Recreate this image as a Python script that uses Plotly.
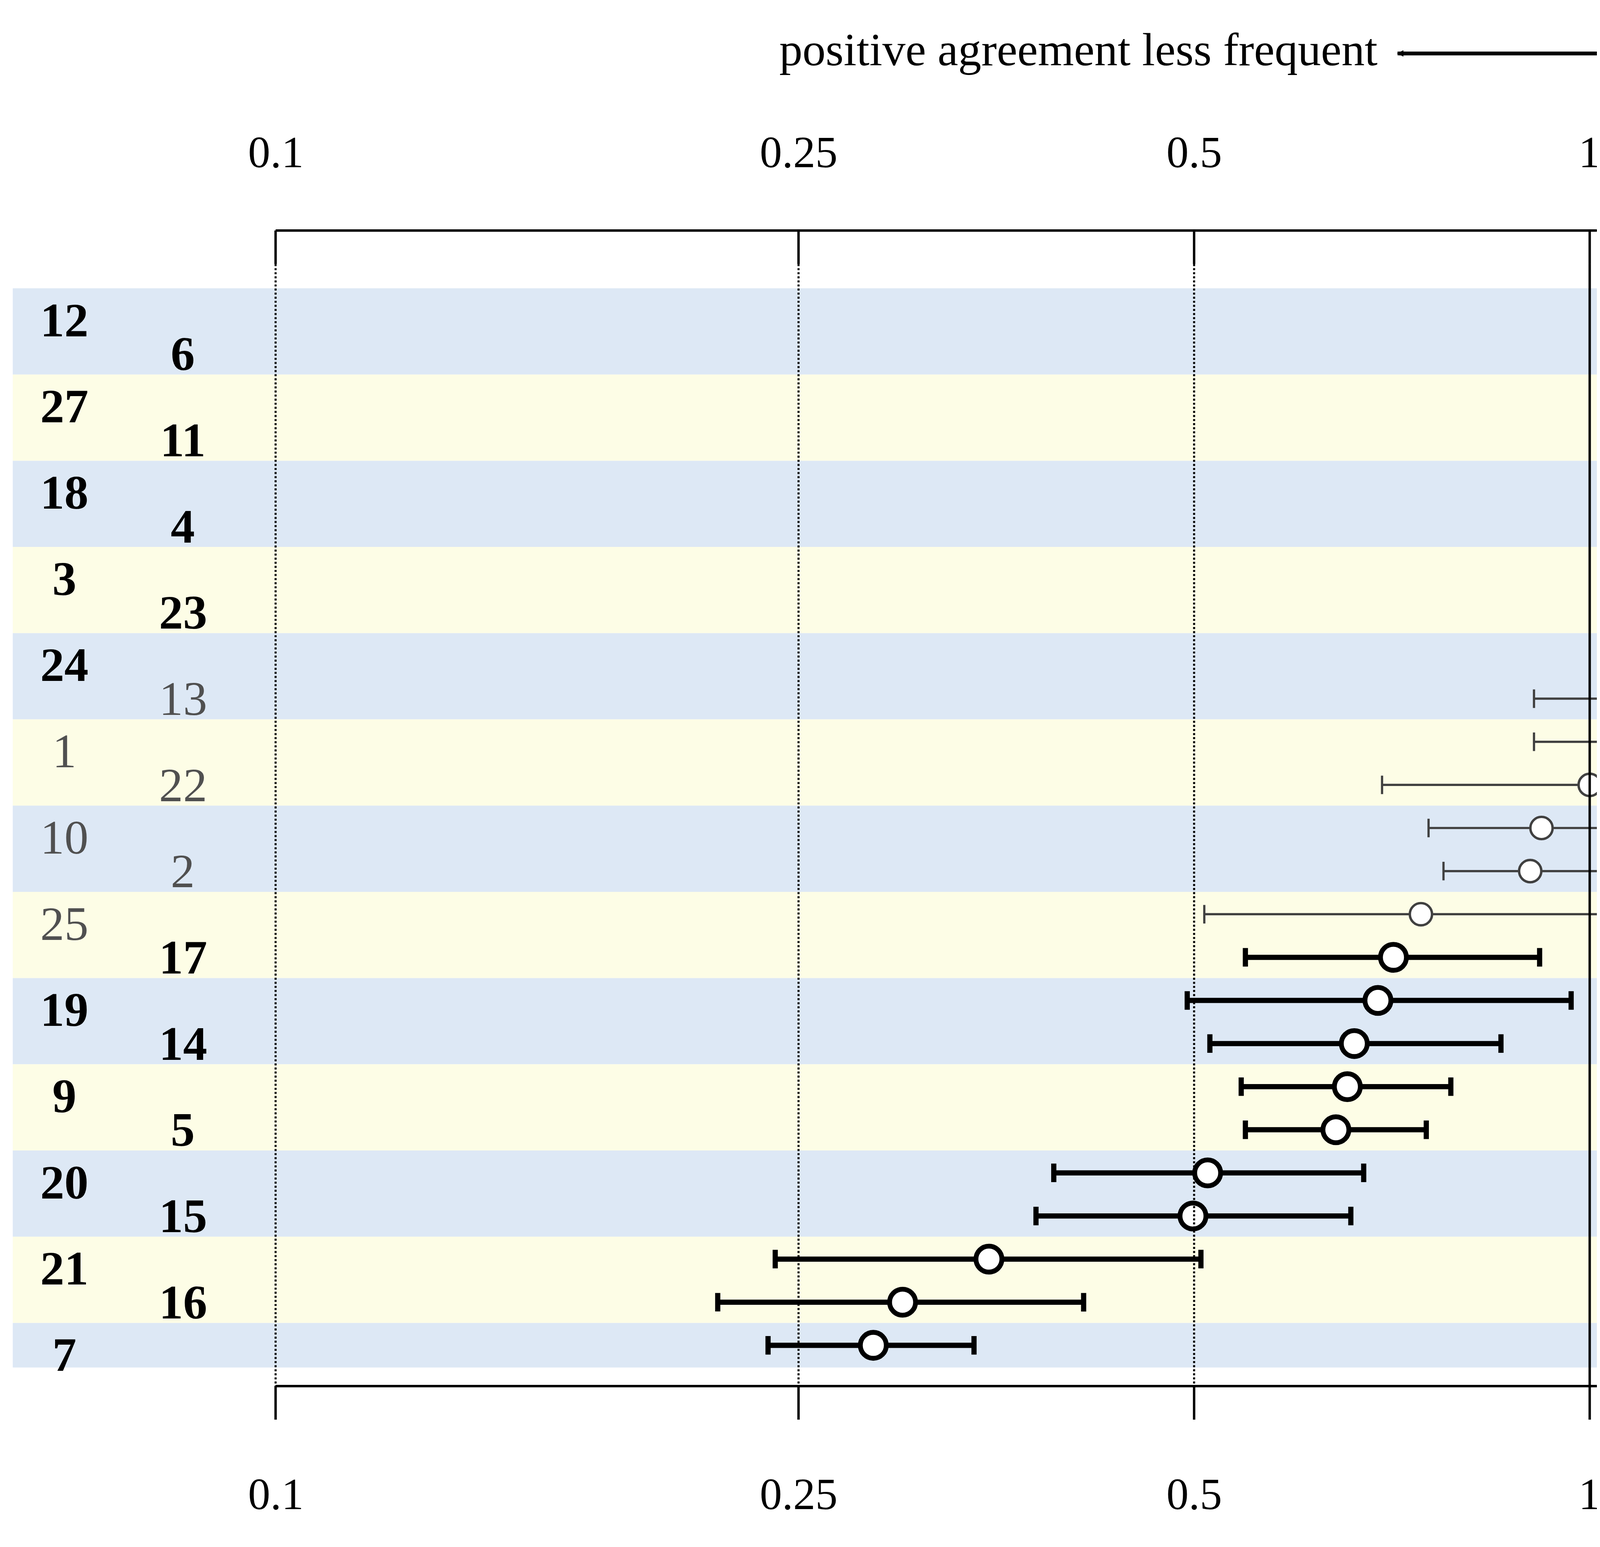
import numpy as np
import plotly.graph_objects as go

labels = ["12","6","27","11","18","4","3","23","24","13","1","22","10","2","25","17","19","14","9","5","20","15","21","16","7"]
est  = [7.18,4.51,2.82,2.61,2.07,2.01,1.97,1.86,1.44,1.11,1.06,1.00,0.919,0.901,0.744,0.709,0.690,0.662,0.654,0.641,0.512,0.499,0.349,0.300,0.285]
low  = [5.22,3.68,1.65,2.08,1.49,1.72,1.68,1.18,1.02,0.907,0.907,0.695,0.754,0.774,0.509,0.547,0.494,0.514,0.543,0.547,0.391,0.379,0.240,0.217,0.237]
high = [9.87,5.55,4.80,3.26,2.88,2.36,2.32,2.93,2.04,1.37,1.235,1.44,1.12,1.05,1.09,0.916,0.968,0.856,0.784,0.751,0.673,0.658,0.506,0.412,0.340]
significant = [True]*9 + [False]*6 + [True]*10
tick_vals = [0.1,0.25,0.5,1,2,4,8]
tick_text = ["0.1","0.25","0.5","1","2","4","8"]

S = 4.745
F = "Liberation Serif"
y0, dy = 165, 23.13
ys = [y0 + dy*i for i in range(len(labels))]
L = np.log10
def px(p):
    return (p - 856) / 709

fig = go.Figure()
shapes, ann = [], []
for k in range(13):
    top = 153 + 2*dy*k
    bot = min(top + 2*dy, 732)
    shapes.append(dict(type="rect", xref="x", yref="y", x0=-1.2, x1=L(8), y0=top, y1=bot,
                       fillcolor="#dde8f5" if k % 2 == 0 else "#fdfde6", line_width=0, layer="below"))
for v in tick_vals:
    shapes.append(dict(type="line", xref="x", yref="y", x0=L(v), x1=L(v), y0=140, y1=742,
                       line=dict(color="black", width=1.3*S if v == 1 else 1.1*S, dash="solid" if v == 1 else "dot")))
for ya, yt, lab in [(122, 140, 80), (742, 760, 800)]:
    shapes.append(dict(type="line", xref="x", yref="y", x0=L(0.1), x1=L(8), y0=ya, y1=ya, line=dict(color="black", width=1.3*S)))
    for v, t in zip(tick_vals, tick_text):
        shapes.append(dict(type="line", xref="x", yref="y", x0=L(v), x1=L(v), y0=ya, y1=yt, line=dict(color="black", width=1.3*S)))
        ann.append(dict(x=L(v), y=lab, xref="x", yref="y", text=t, showarrow=False,
                        font=dict(family=F, size=24*S, color="black")))
ann.append(dict(x=px(742), y=25, xref="x", yref="y", text="positive agreement less frequent", showarrow=False,
                xanchor="right", font=dict(family=F, size=25*S, color="black")))
ann.append(dict(x=px(970), y=25, xref="x", yref="y", text="positive agreement more frequent", showarrow=False,
                xanchor="left", font=dict(family=F, size=25*S, color="black")))
for a, b in [(958, 752), (752, 958)]:
    ann.append(dict(x=px(a), y=27, ax=px(b), ay=27, xref="x", yref="y", axref="x", ayref="y",
                    text="", showarrow=True, arrowhead=2, arrowsize=0.35, arrowwidth=2*S, arrowcolor="black"))
for i, (lab, y, sg) in enumerate(zip(labels, ys, significant)):
    x = 33 if i % 2 == 0 else 97
    yy = y + 5 if i % 2 == 0 else y
    ann.append(dict(x=px(x), y=yy, xref="x", yref="y", text=f"<b>{lab}</b>" if sg else lab, showarrow=False,
                    font=dict(family=F, size=26*S, color="black" if sg else "#505050")))

for flag in [True, False]:
    idx = [i for i in range(len(labels)) if significant[i] == flag]
    xe = [L(est[i]) for i in idx]
    fig.add_trace(go.Scatter(
        x=xe, y=[ys[i] for i in idx], mode="markers",
        marker=dict(size=(14 if flag else 12)*S, color="white",
                    line=dict(color="black" if flag else "#404040", width=(2.6 if flag else 1.3)*S)),
        error_x=dict(type="data", symmetric=False,
                     array=[L(high[i]) - L(est[i]) for i in idx],
                     arrayminus=[L(est[i]) - L(low[i]) for i in idx],
                     color="black" if flag else "#404040", thickness=(2.8 if flag else 1.2)*S, width=5*S),
        showlegend=False, hoverinfo="skip"))

fig.update_layout(
    width=7440, height=3960, margin=dict(l=0, r=0, t=0, b=0),
    plot_bgcolor="white", paper_bgcolor="white",
    xaxis=dict(range=[px(0), px(1568)], visible=False, fixedrange=True),
    yaxis=dict(range=[830, 0], visible=False),
    shapes=shapes, annotations=ann)
fig.write_html("out.html")
